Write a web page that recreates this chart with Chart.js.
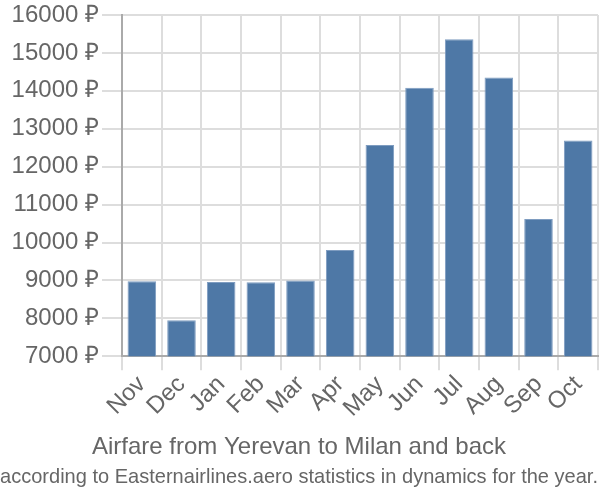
<!DOCTYPE html>
<html>
<head>
<meta charset="utf-8">
<script src="https://cdn.jsdelivr.net/npm/chart.js@4/dist/chart.umd.min.js"></script>
<style>
  html, body { margin: 0; padding: 0; background: #fff; }
  #wrap { width: 600px; height: 500px; }
</style>
</head>
<body>
<div id="wrap"><canvas id="chart"></canvas></div>
<script>
const months = ["Nov", "Dec", "Jan", "Feb", "Mar", "Apr", "May", "Jun", "Jul", "Aug", "Sep", "Oct"];
const prices = [8980, 7950, 8960, 8950, 9000, 9800, 12570, 14080, 15360, 14350, 10620, 12690];
const yMin = 7000;
const yMax = 16000;
const yStep = 1000;
const currency = " ₽";

Chart.defaults.font.family = "'Liberation Sans', Arial, sans-serif";
Chart.defaults.color = "#666";

const ctx = document.getElementById("chart").getContext("2d");
new Chart(ctx, {
  type: "bar",
  data: {
    labels: months,
    datasets: [
      {
        data: prices,
        backgroundColor: "#4e78a6",
        borderColor: "#7e9cc0",
        borderWidth: 1,
        barPercentage: 0.72,
        categoryPercentage: 1,
      },
    ],
  },
  options: {
    responsive: true,
    maintainAspectRatio: false,
    animation: false,
    layout: { padding: { left: 0, right: 2, top: 0, bottom: 0 } },
    plugins: {
      legend: { display: false },
      tooltip: { enabled: false },
      title: {
        display: true,
        position: "bottom",
        weight: 1000,
        text: "Airfare from Yerevan to Milan and back",
        color: "#666",
        font: { size: 24, weight: "normal" },
        padding: { top: 10, bottom: 2 },
      },
      subtitle: {
        display: true,
        position: "bottom",
        weight: 2500,
        text: "according to Easternairlines.aero statistics in dynamics for the year.",
        color: "#666",
        font: { size: 20.4 },
        padding: { top: 2, bottom: 10 },
      },
    },
    scales: {
      x: {
        grid: { color: "#ddd", lineWidth: 2, offset: true, tickLength: 14 },
        border: { color: "#aaa", width: 2 },
        ticks: {
          font: { size: 24 },
          maxRotation: 45,
          minRotation: 45,
          autoSkip: false,
          color: "#666",
          padding: 0,
        },
      },
      y: {
        min: yMin,
        max: yMax,
        grid: { color: "#ddd", lineWidth: 2, tickLength: 20 },
        border: { color: "#aaa", width: 2 },
        afterFit: (scale) => { scale.width = 122; },
        ticks: {
          stepSize: yStep,
          font: { size: 24, lineHeight: 1.0 },
          color: "#666",
          padding: 3,
          callback: (v) => v + currency,
        },
      },
    },
  },
});
</script>
</body>
</html>
